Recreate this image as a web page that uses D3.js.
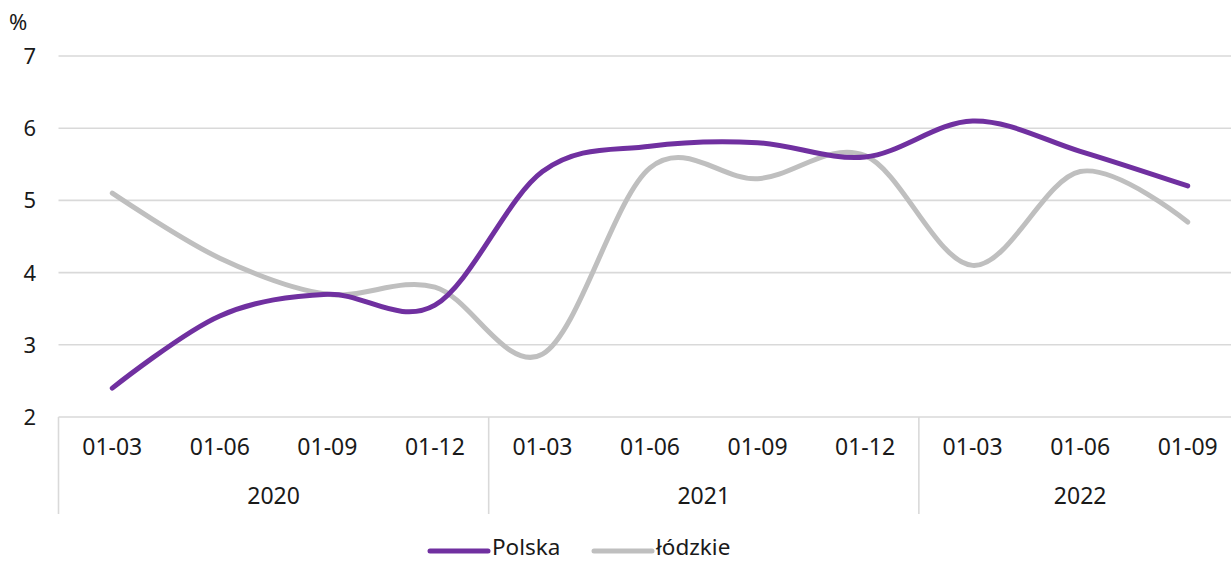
<!DOCTYPE html>
<html><head><meta charset="utf-8">
<script src="https://cdn.jsdelivr.net/npm/d3@7"></script>
<style>html,body{margin:0;padding:0;background:#fff;overflow:hidden}svg{display:block}text{font-family:"Noto Sans",sans-serif;fill:#1a1a1a}</style>
</head><body>
<svg id="c" width="1231" height="562"></svg>
<script>
const categories = ["01-03","01-06","01-09","01-12","01-03","01-06","01-09","01-12","01-03","01-06","01-09"];
const years = ["2020","2021","2022"];
const yearSpans = [4,4,3];
const polska = [2.4,3.4,3.7,3.55,5.4,5.75,5.8,5.6,6.1,5.68,5.2];
const lodzkie = [5.1,4.2,3.7,3.8,2.87,5.45,5.3,5.62,4.1,5.4,4.7];
const yTicks = [2,3,4,5,6,7];
const seriesNames = ["Polska","łódzkie"];
const colors = ["#7030A0","#BFBFBF"];

const svg = d3.select("#c");
const x = d3.scaleBand().domain(d3.range(categories.length)).range([58.5,1241.5]).padding(0);
const y = d3.scaleLinear().domain([2,7]).range([417,56]);

svg.append("g").selectAll("line").data(yTicks).join("line")
  .attr("x1",58.5).attr("x2",1231).attr("y1",d=>y(d)).attr("y2",d=>y(d))
  .attr("stroke","#D9D9D9").attr("stroke-width",1.6);

svg.append("g").selectAll("text").data(yTicks).join("text")
  .attr("x",36).attr("y",d=>y(d)).attr("dy","0.36em").attr("text-anchor","end")
  .style("font-size","22px").text(d=>d);
svg.append("text").attr("x",9).attr("y",30).style("font-size","22px").text("%");

const xa = svg.append("g");
xa.selectAll("text.cat").data(categories).join("text").attr("class","cat")
  .attr("x",(d,i)=>x(i)+x.bandwidth()/2).attr("y",447).attr("dy","0.36em")
  .attr("text-anchor","middle").style("font-size","23px").text(d=>d);
let starts=[0]; yearSpans.forEach((s,i)=>starts.push(starts[i]+s));
xa.selectAll("line.sep").data(starts.slice(0,3)).join("line").attr("class","sep")
  .attr("x1",d=>x(d)).attr("x2",d=>x(d)).attr("y1",417).attr("y2",514)
  .attr("stroke","#D9D9D9").attr("stroke-width",1.6);
xa.selectAll("text.yr").data(years).join("text").attr("class","yr")
  .attr("x",(d,i)=>{const a=x(starts[i]), b=starts[i+1]<categories.length?x(starts[i+1]):x(categories.length-1)+x.bandwidth(); return (a+b)/2;})
  .attr("y",496).attr("dy","0.36em").attr("text-anchor","middle").style("font-size","23px").text(d=>d);

const line = d3.line().x((d,i)=>x(i)+x.bandwidth()/2).y(d=>y(d)).curve(d3.curveCatmullRom.alpha(0));
[lodzkie,polska].forEach((s,k)=>{
  svg.append("path").attr("d",line(s)).attr("fill","none")
    .attr("stroke",k===0?colors[1]:colors[0]).attr("stroke-width",5).attr("stroke-linecap","round");
});

const lg = svg.append("g");
const lx=[430,594];
seriesNames.forEach((n,i)=>{
  lg.append("line").attr("x1",lx[i]).attr("x2",lx[i]+58).attr("y1",551).attr("y2",551)
    .attr("stroke",colors[i]).attr("stroke-width",5).attr("stroke-linecap","round");
  lg.append("text").attr("x",lx[i]+62).attr("y",555).style("font-size","22.5px").text(n);
});
</script>
</body></html>
